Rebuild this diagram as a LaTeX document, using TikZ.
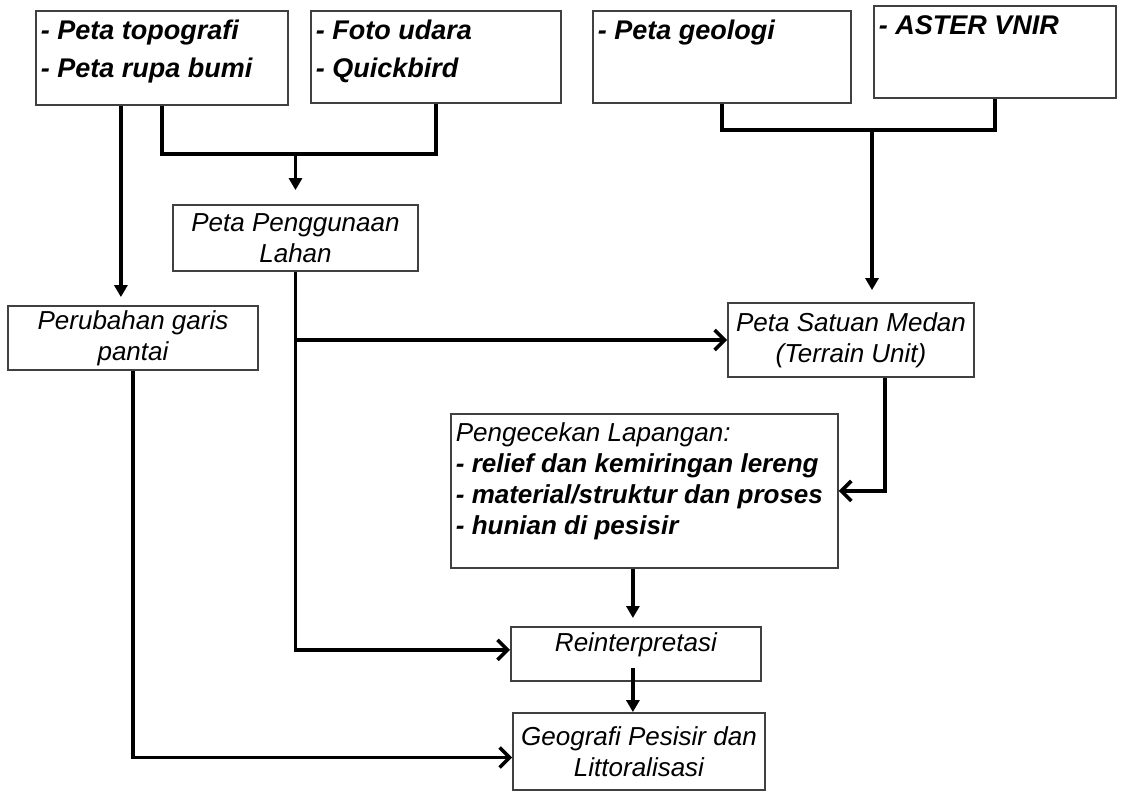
\documentclass[tikz,border=0pt]{standalone}
\usepackage{fontspec}
\setmainfont{Liberation Sans}
\usetikzlibrary{arrows.meta}
\tikzset{
  box/.style={draw=black!75, line width=1.8pt, inner xsep=5pt, inner ysep=2pt,
    font=\fontsize{26}{31}\selectfont\itshape},
  topbox/.style={box, anchor=north west, font=\fontsize{27}{38}\selectfont\bfseries\itshape},
  midbox/.style={box, align=center, inner sep=0pt},
  conn/.style={line width=3.6pt},
  downarr/.style={conn, -{Triangle[length=12pt,width=13pt]}},
  intoarr/.style={conn, -{Straight Barb[length=10pt,width=20pt,line width=3.6pt]}}
}

\begin{document}
\begin{tikzpicture}[x=1pt,y=-1pt]
\newcommand{\boxtext}[3]{\parbox[t][#2][t]{#1}{#3}}
\useasboundingbox (0,0) rectangle (1125,796);
% sources
\node[topbox] (topo) at (35,10) {\boxtext{242pt}{90pt}{\strut- Peta topografi\\- Peta rupa bumi}};
\node[topbox] (foto) at (310,10) {\boxtext{240pt}{88pt}{\strut- Foto udara\\- Quickbird}};
\node[topbox] (geo) at (592,10) {\boxtext{248pt}{88pt}{\strut- Peta geologi}};
\node[topbox] (aster) at (873,5) {\boxtext{232pt}{88pt}{\strut- ASTER VNIR}};
% intermediate maps
\node[midbox, minimum width=245pt, minimum height=66pt] (lahan) at (295.5,238) {Peta Penggunaan\\Lahan};
\node[midbox, minimum width=250pt, minimum height=64pt] (pantai) at (133,338) {Perubahan garis\\pantai};
\node[midbox, minimum width=246pt, minimum height=74pt] (medan) at (851,340) {Peta Satuan Medan\\(Terrain Unit)};
\node[box, anchor=north west, inner ysep=6pt] (cek) at (450,413) {\boxtext{377pt}{142pt}{\strut Pengecekan Lapangan:\\
  \bfseries- relief dan kemiringan lereng\\- material/struktur dan proses\\- hunian di pesisir}};
\node[box, anchor=north west, inner ysep=3pt] (reint) at (510,626) {\boxtext{240pt}{48pt}{\centering\strut Reinterpretasi}};
\node[midbox, minimum width=252pt, minimum height=77pt] (geografi) at (639,751.5) {Geografi Pesisir dan\\Littoralisasi};
% connectors
\draw[conn] (topo.south) -- ++(0,48) coordinate (j1) -| (foto.south);
\draw[downarr, shorten >=14pt] (j1 -| lahan.north) -- (lahan.north);
\draw[downarr, shorten >=8pt] ([xshift=-41pt]topo.south) -- ([xshift=-41pt]topo.south |- pantai.north);
\draw[conn] (geo.south) -- ++(0,26) coordinate (j2) -| (aster.south);
\draw[downarr, shorten >=12pt] ([xshift=21pt]medan.north |- j2) -- ([xshift=21pt]medan.north);
\draw[intoarr] (lahan.south) |- ([yshift=4pt]reint.west);
\draw[intoarr] (lahan.south |- medan.west) -- (medan.west);
\draw[intoarr] (pantai.south) |- ([yshift=-6pt]geografi.west);
\draw[intoarr] ([xshift=34pt]medan.south) |- (cek.east);
\draw[downarr, shorten >=8pt] ([xshift=-3pt]reint.north |- cek.south) -- ([xshift=-3pt]reint.north);
\draw[downarr] ([xshift=-3pt,yshift=14pt]reint.south) -- ([xshift=-3pt]reint.south |- geografi.north);
\end{tikzpicture}
\end{document}
